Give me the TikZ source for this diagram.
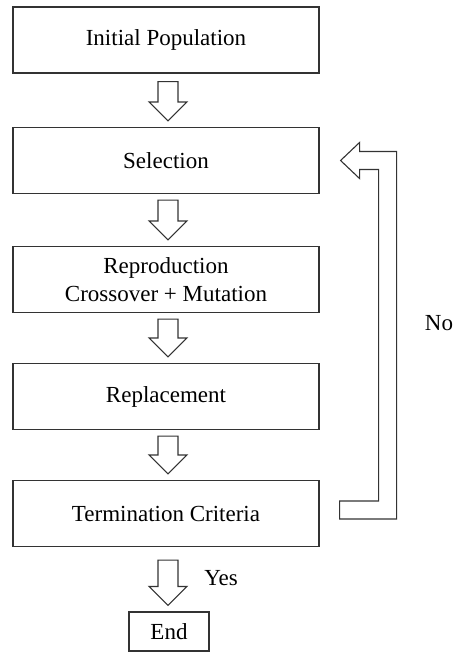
\documentclass[tikz,border=0pt]{standalone}
\usepackage{fontspec}
\setmainfont{Liberation Serif}
\usetikzlibrary{calc}
\tikzset{
  box/.style={draw=black!80, line width=1.1pt, minimum width=306pt, minimum height=66pt, inner sep=0pt, align=center, font=\fontsize{23}{28}\selectfont},
  endbox/.style={box, minimum width=80pt, minimum height=39pt},
  blk/.style={draw=black!80, line width=1.1pt, line join=miter, fill=white},
  lbl/.style={font=\fontsize{23}{28}\selectfont, inner sep=0pt}
}
\newcommand{\blockdown}[3]{% from node #1 to node #2, gap top #3
  \path[blk] let \p1=($(#1.south)+(2,#3)$), \p2=($(#2.north)+(2,-6)$) in
    (\x1-10pt,\y1) -- (\x1+10pt,\y1) -- (\x1+10pt,\y2+19pt) -- (\x1+19pt,\y2+19pt)
    -- (\x1,\y2) -- (\x1-19pt,\y2+19pt) -- (\x1-10pt,\y2+19pt) -- cycle;}
\begin{document}
\begin{tikzpicture}[x=1pt,y=-1pt]
\useasboundingbox (0,0) rectangle (457,653);
\node[box] (init) at (166,40) {Initial Population};
\node[box] (sel) at (166,160.5) {Selection};
\node[box] (rep) at (166,279.5) {Reproduction\\Crossover + Mutation};
\node[box] (repl) at (166,396.5) {Replacement};
\node[box] (term) at (166,513.5) {Termination Criteria};
\node[endbox] (end) at (169,631.5) {End};
\blockdown{init}{sel}{8}
\blockdown{sel}{rep}{6}
\blockdown{rep}{repl}{6}
\blockdown{repl}{term}{6}
\blockdown{term}{end}{13}
\path[blk] let \p1=(sel.east), \p2=(term.east) in
  (\x1+21pt,\y1) -- (\x1+40pt,\y1+18pt) -- (\x1+40pt,\y1+9pt) -- (\x1+77pt,\y1+9pt)
  -- (\x1+77pt,\y2-5.5pt) -- (\x2+20pt,\y2-5.5pt) -- (\x2+20pt,\y2+12.5pt)
  -- (\x1+59pt,\y2+12.5pt) -- (\x1+59pt,\y1-9pt) -- (\x1+40pt,\y1-9pt)
  -- (\x1+40pt,\y1-18pt) -- cycle;
\node[lbl] (no) at (439,323) {No};
\node[lbl] (yes) at (221,578) {Yes};
\end{tikzpicture}
\end{document}
